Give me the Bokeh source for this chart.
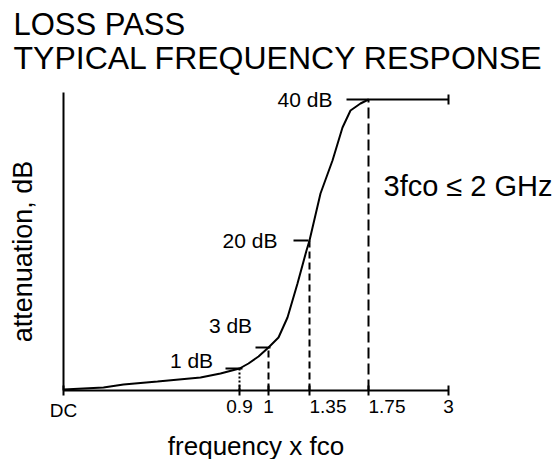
import math
from bokeh.plotting import figure
from bokeh.models import (Range1d, FixedTicker, Label, LinearAxis)
from bokeh.embed import file_html
from bokeh.resources import INLINE

FONT = "Liberation Sans"

# ---- data (schematic chart: x = position along the drawn frequency axis,
#      y = drawn height of the attenuation level) ----
tick_labels = ["DC", "0.9", "1", "1.35", "1.75", "3"]
tick_pos = [0, 176, 205, 246, 305, 385]

level_labels = ["1 dB", "3 dB", "20 dB", "40 dB"]
level_x = [176, 205, 246, 305]
level_y = [22, 43, 150, 291]

curve_x = [0, 40, 60, 94, 137, 157, 176, 185, 195, 205, 215, 224, 234, 243, 246,
           257, 269, 279, 287, 297, 305, 385]
curve_y = [1, 3, 6, 9, 13, 17, 22, 27, 34, 43, 53, 73, 107, 140, 150,
           197, 230, 263, 280, 287, 291, 291]

y_axis_top = 298
title_lines = ["LOSS PASS", "TYPICAL FREQUENCY RESPONSE"]
note_text = "3fco \u2264 2 GHz"
x_title = "frequency x fco"
y_title = "attenuation, dB"

p = figure(width=560, height=459, output_backend="svg", toolbar_location=None,
           x_range=Range1d(-63, 497), y_range=Range1d(-69, 390),
           x_axis_type=None, y_axis_type=None,
           min_border_left=0, min_border_right=0, min_border_top=0, min_border_bottom=0)
p.outline_line_color = None
p.grid.visible = False
p.background_fill_color = "white"
p.border_fill_color = "white"

xaxis = LinearAxis(ticker=FixedTicker(ticks=tick_pos), bounds=(tick_pos[0], tick_pos[-1]),
                   fixed_location=0,
                   axis_line_width=2, axis_line_color="black",
                   major_tick_in=5, major_tick_out=5, major_tick_line_width=2,
                   major_tick_line_color="black", minor_tick_line_color=None,
                   major_label_overrides={t: "" for t in tick_pos},
                   major_label_text_font_size="0px")
p.add_layout(xaxis, "below")

yaxis = LinearAxis(ticker=FixedTicker(ticks=[]), bounds=(0, y_axis_top),
                   fixed_location=0,
                   axis_line_width=2, axis_line_color="black",
                   major_tick_in=0, major_tick_out=0, minor_tick_line_color=None,
                   major_label_text_font_size="0px")
p.add_layout(yaxis, "left")

def txt(x, y, text, size, align="left", baseline="middle", dx=0, dy=0, angle=0):
    p.add_layout(Label(x=x, y=y, x_offset=dx, y_offset=dy, text=text, text_align=align,
                       text_baseline=baseline, text_font=FONT, text_font_size=size,
                       text_color="black", angle=angle))

# titles
txt(-50, 366, title_lines[0], "31px")
txt(-50, 333, title_lines[1], "32px")

# axis titles
txt((tick_pos[0] + tick_pos[-1]) / 2, 0, x_title, "26px", align="center", dy=-55)
txt(0, y_axis_top / 2, y_title, "27px", align="center", dx=-41, dy=-10, angle=math.pi / 2)

# tick labels (1.35 and 1.75 sit to the right of their ticks)
left_aligned = {"1.35", "1.75"}
for t, xv in zip(tick_labels, tick_pos):
    txt(xv, 0, t, "19px", align="left" if t in left_aligned else "center",
        baseline="top", dy=-9)

# dashed guide lines from axis up to each level
dashes = ["2 2", "7 4", "7 4", "11 5"]
for xv, yv, d in zip(level_x, level_y, dashes):
    p.segment(x0=[xv], y0=[0], x1=[xv], y1=[yv], line_color="black",
              line_width=2, line_dash=d)

# response curve
p.line(curve_x, curve_y, line_color="black", line_width=2)

# level marker bars
bar_left = [14, 13, 16, 22]
bar_right = [3, 2, -1, 0]
p.segment(x0=[x - a for x, a in zip(level_x, bar_left)], y0=level_y,
          x1=[x + b for x, b in zip(level_x, bar_right)], y1=level_y,
          line_color="black", line_width=2)
# end tick of the 40 dB line
p.scatter([curve_x[-1]], [curve_y[-1]], marker="dash", angle=math.pi / 2, size=10,
          line_color="black", line_width=2)

# level labels
offsets = [(-48, 8, "center"), (-38, 22, "center"), (-32, 0, "right"), (-36, 0, "right")]
for lab, xv, yv, (dx, dy, al) in zip(level_labels, level_x, level_y, offsets):
    txt(xv, yv, lab, "21px", align=al, dx=dx, dy=dy)

txt(level_x[-1], 0, note_text, "29px", dx=15, dy=205)

open("out.html", "w").write(file_html(p, INLINE))
